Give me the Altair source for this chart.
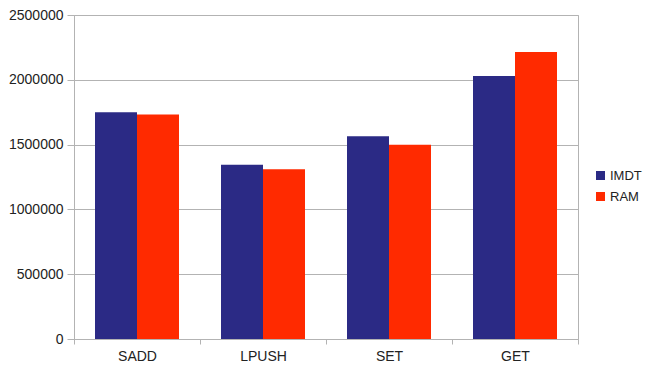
import altair as alt
import pandas as pd

categories = ["SADD", "LPUSH", "SET", "GET"]
series = ["IMDT", "RAM"]
imdt_values = [1750000, 1344000, 1565000, 2029000]
ram_values = [1733000, 1310000, 1499000, 2214000]
y_ticks = [0, 500000, 1000000, 1500000, 2000000, 2500000]
colors = ["#2b2a85", "#ff2a00"]

rows = []
for c, a, b in zip(categories, imdt_values, ram_values):
    rows.append({"op": c, "series": "IMDT", "value": a})
    rows.append({"op": c, "series": "RAM", "value": b})
df = pd.DataFrame(rows)

FONT = "Liberation Sans"
GRID = "#b3b3b3"

chart = alt.Chart(df).mark_bar().encode(
    x=alt.X("op:N", sort=categories,
            scale=alt.Scale(paddingInner=0, paddingOuter=0),
            axis=alt.Axis(title=None, labelAngle=0, tickBand="extent",
                          tickSize=5, tickColor=GRID, domainColor=GRID,
                          labelPadding=5, labelFontSize=14, labelColor="#222222",
                          labelFont=FONT, grid=False)),
    xOffset=alt.XOffset("series:N", sort=series,
                        scale=alt.Scale(paddingInner=0, paddingOuter=0.5)),
    y=alt.Y("value:Q", scale=alt.Scale(domain=[0, 2500000], nice=False),
            axis=alt.Axis(title=None, values=y_ticks, format="d",
                          tickSize=7, tickColor=GRID, domainColor=GRID,
                          gridColor=GRID, labelPadding=4, labelFontSize=14,
                          labelColor="#222222", labelFont=FONT)),
    color=alt.Color("series:N", sort=series,
                    scale=alt.Scale(domain=series, range=colors),
                    legend=alt.Legend(title=None, orient="none",
                                      legendX=520, legendY=154, padding=0,
                                      symbolType="square", symbolSize=81,
                                      symbolStrokeWidth=0, rowPadding=7,
                                      labelOffset=3, labelFontSize=13,
                                      labelColor="#222222", labelFont=FONT)),
).properties(
    width=504, height=324,
    autosize=alt.AutoSizeParams(type="none"),
    padding={"left": 66, "top": 7, "right": 66, "bottom": 30},
).configure_view(stroke=GRID)

chart.save("out.html", embed_options={"renderer": "svg", "actions": False})
